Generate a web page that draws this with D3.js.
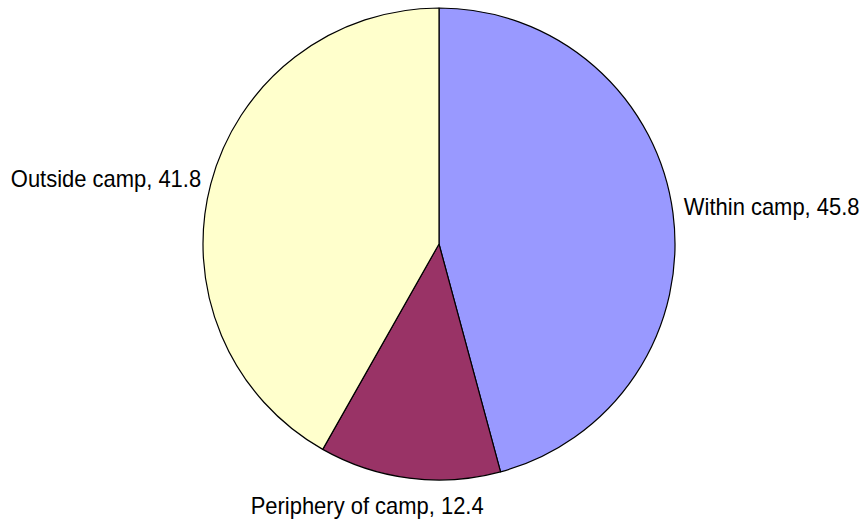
<!DOCTYPE html>
<html><head><meta charset="utf-8">
<script src="https://cdn.jsdelivr.net/npm/d3@7"></script>
<style>body{margin:0;background:#fff}svg{display:block}</style>
</head><body>
<svg id="chart" width="863" height="522"></svg>
<script>
const categories = ["Within camp", "Periphery of camp", "Outside camp"];
const values = [45.8, 12.4, 41.8];
const colors = ["#9999FF", "#993366", "#FFFFCC"];

const W = 863, H = 522, cx = 439, cy = 244, r = 236;
const svg = d3.select("#chart");
const g = svg.append("g").attr("transform", `translate(${cx},${cy})`);
const pie = d3.pie().sort(null).value(d => d.v);
const data = categories.map((c, i) => ({c, v: values[i], col: colors[i]}));
const arcs = pie(data);
const arc = d3.arc().innerRadius(0).outerRadius(r);

g.selectAll("path").data(arcs).join("path")
  .attr("d", arc).attr("fill", d => d.data.col)
  .attr("stroke", "#000").attr("stroke-width", 1.2).attr("stroke-linejoin", "round");

// label placement relative to the slice mid-angle
const labelArc = d3.arc().innerRadius(r + 10).outerRadius(r + 10);
const nudge = [[1, 3], [-41, 26], [0, 6]];
g.selectAll("text").data(arcs).join("text")
  .attr("font-family", "Liberation Sans, Arial, sans-serif")
  .attr("font-size", 23)
  .attr("fill", "#000")
  .attr("text-anchor", (d, i) => {
    const m = (d.startAngle + d.endAngle) / 2;
    const s = Math.sin(m);
    return Math.abs(s) < 0.3 ? "middle" : (s > 0 ? "start" : "end");
  })
  .attr("transform", (d, i) => {
    const [x, y] = labelArc.centroid(d);
    return `translate(${x + nudge[i][0]},${y + nudge[i][1]}) scale(0.955,1)`;
  })
  .text(d => `${d.data.c}, ${d.data.v}`);
</script>
</body></html>
